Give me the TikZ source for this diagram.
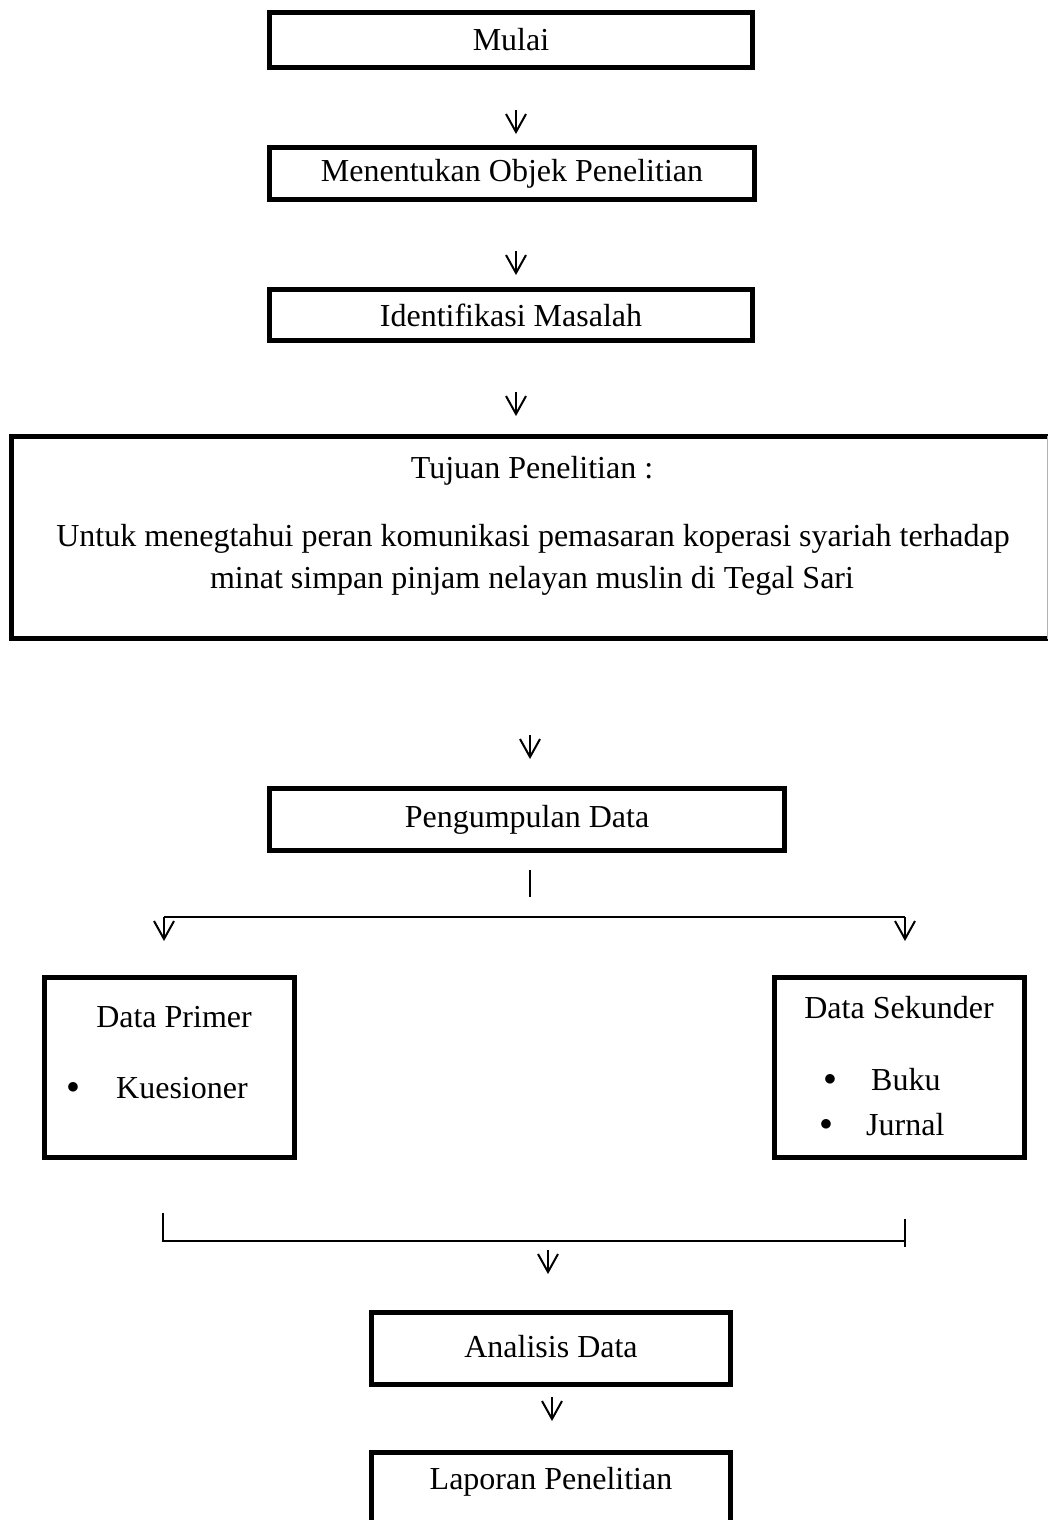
\documentclass[tikz,border=0pt]{standalone}
\usepackage{fontspec}
\setmainfont{Liberation Serif}
\begin{document}
\begin{tikzpicture}[x=1pt,y=-1pt,
  box/.style={draw,line width=5pt,inner sep=0pt,font=\fontsize{32}{38}\selectfont},
  txt/.style={inner sep=0pt,font=\fontsize{32}{38}\selectfont},
  link/.style={line width=2pt},
  varrow/.pic={\draw[line width=2pt,line join=miter] (0,0) -- (0,22);
                \draw[line width=2pt,line join=miter] (-10,4) -- (0,22) -- (10,4);}
  ]
\clip (0,0) rectangle (1051,1520);
\fill[white] (0,0) rectangle (1051,1520);

% boxes
\node[box,minimum width=483,minimum height=55] (mulai) at (511,40) {\raisebox{-3pt}{Mulai}};
\node[box,minimum width=485,minimum height=52] (objek) at (512,173.5) {\raisebox{-4pt}{Menentukan Objek Penelitian}};
\node[box,minimum width=483,minimum height=51] (masalah) at (511,315) {\raisebox{-3pt}{Identifikasi Masalah}};

% tujuan box (right edge cut by page)
\node[minimum width=1036,minimum height=202,inner sep=0pt] (tujuan) at (529.5,537.5) {};
\draw[line width=5pt] (tujuan.north east) -- (tujuan.north west) -- (tujuan.south west) -- (tujuan.south east);
\draw[line width=1pt,gray!60] (tujuan.north east) -- (tujuan.south east);
\node[txt] (tj1) at (532,471) {Tujuan Penelitian :};
\node[txt] (tj2) at (533,539) {Untuk menegtahui peran komunikasi pemasaran koperasi syariah terhadap};
\node[txt] (tj3) at (532,581) {minat simpan pinjam nelayan muslin di Tegal Sari};

\node[box,minimum width=515,minimum height=62] (kumpul) at (527,819.5) {\raisebox{-2pt}{Pengumpulan Data}};

\node[box,minimum width=250,minimum height=180] (primer) at (169.5,1067.5) {};
\node[txt] (primer1) at (174,1017) {Data Primer};
\node[txt] (primer2) at (73,1088) {$\bullet$};
\node[txt,anchor=west] (primer3) at (116,1088) {Kuesioner};

\node[box,minimum width=250,minimum height=180] (sekunder) at (899.5,1067.5) {};
\node[txt] (sek1) at (899,1008) {Data Sekunder};
\node[txt] (sek2) at (830,1080) {$\bullet$};
\node[txt,anchor=west] (sek3) at (871,1080) {Buku};
\node[txt] (sek4) at (826,1125) {$\bullet$};
\node[txt,anchor=west] (sek5) at (866,1125) {Jurnal};

\node[box,minimum width=359,minimum height=72] (analisis) at (551,1348.5) {\raisebox{4pt}{Analisis Data}};
\node[box,minimum width=359,minimum height=80] (laporan) at (551,1492) {};
\node[txt] (laporan1) at (551,1482) {Laporan Penelitian};

% arrows
\pic at (516,110) {varrow};
\pic at (516,251) {varrow};
\pic at (516,392) {varrow};
\pic at (530,735) {varrow};

% split
\coordinate (s0) at (530,870);
\coordinate (s1) at (530,897);
\draw[link] (s0) -- (s1);
\coordinate (hl) at (164,917);
\coordinate (hr) at (905,917);
\draw[link] (hl) -- (hr);
\pic at (hl) {varrow};
\pic at (hr) {varrow};

% merge
\coordinate (ml0) at (163,1213);
\coordinate (ml1) at (163,1241);
\coordinate (mr0) at (905,1219);
\coordinate (mr1) at (905,1247);
\draw[link] (ml0) -- (ml1) -- (905,1241);
\draw[link] (mr0) -- (mr1);
\pic at (548,1250) {varrow};
\pic at (552,1397) {varrow};
\end{tikzpicture}
\end{document}
